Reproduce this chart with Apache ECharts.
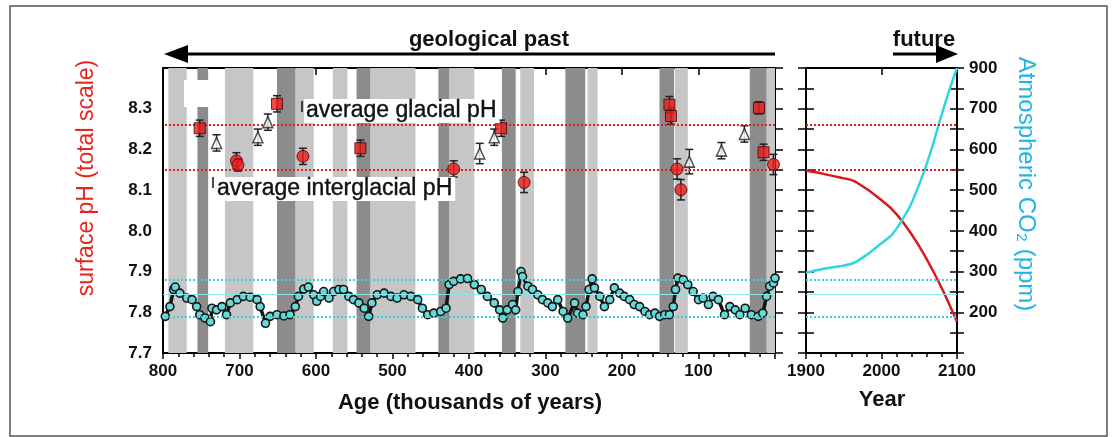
<!DOCTYPE html>
<html><head><meta charset="utf-8">
<script src="https://cdn.jsdelivr.net/npm/echarts@6/dist/echarts.min.js"></script>
<style>html,body{margin:0;padding:0;background:#fff}#c{width:1112px;height:437px}</style>
</head><body><div id="c"></div>
<script>
// ---------- DATA ----------
// Ice-core CO2 record: age (kyr BP) and CO2 (ppm)
const co2Age = [797,791,786,784,778,769,762,756,752,745,738,736,730,723,717,712,703,695,686,677,673,666,660,651,642,634,627,623,616,610,603,599,594,590,583,577,570,564,557,551,544,537,531,527,520,511,502,494,485,476,467,461,454,446,437,430,426,420,411,402,393,384,376,367,360,356,350,343,339,336,332,330,323,317,310,304,297,291,284,277,271,262,258,251,247,243,239,236,229,223,216,210,203,197,190,184,177,170,164,157,151,144,138,133,130,127,120,114,107,100,94,87,81,74,66,59,52,46,39,31,22,16,11,7,2,0];
const co2Val = [190,214,256,262,247,235,231,214,194,186,177,210,206,214,194,223,231,239,237,231,214,173,190,194,191,194,214,239,257,262,243,227,239,251,235,251,256,256,239,231,223,210,190,223,243,247,239,235,243,239,231,210,194,198,202,210,268,276,282,283,268,256,239,223,206,186,206,219,206,251,300,288,264,256,243,231,223,214,231,202,186,223,198,194,214,256,282,260,239,214,231,260,247,239,231,219,214,202,194,198,190,194,194,214,256,284,280,268,251,231,235,219,239,231,194,214,206,194,210,194,190,198,239,264,272,284];

// Boron-isotope surface pH reconstructions (age kyr, pH, error)
const sqAge = [752,651,542,358,138,136,21,15];
const sqPH  = [8.252,8.312,8.203,8.252,8.310,8.282,8.302,8.193];
const sqErr = [0.02,0.02,0.02,0.02,0.02,0.02,0.015,0.02];
const ciAge = [704,702,617,420,328,128,123,2];
const ciPH  = [8.172,8.162,8.183,8.152,8.119,8.152,8.101,8.163];
const ciErr = [0.02,0.015,0.02,0.02,0.025,0.025,0.025,0.025];
const trAge = [730,676,663,386,367,112,70,40];
const trPH  = [8.216,8.230,8.267,8.190,8.230,8.170,8.197,8.238];
const trErr = [0.02,0.02,0.02,0.025,0.02,0.03,0.02,0.02];

// Shaded periods (kyr BP, start-end)
const lightBands = [[793,769],[719,682],[627,603],[578,559],[529,470],[426,393],[333,315],[245,232],[131,114],[11,0]];
const darkBands  = [[755,741],[651,627],[547,529],[440,426],[357,339],[274,248],[151,132],[33,11]];

// Reference levels
const glacialPH = 8.263;
const interglacialPH = 8.148;
const co2RefDotted = [280, 190];
const co2RefSolid = [245];

// Future projection
const futYears = [1900,1923,1945,1963,1981,1998,2014,2029,2047,2065,2082,2100];
const futPH    = [8.148,8.140,8.131,8.123,8.102,8.078,8.053,8.020,7.971,7.913,7.851,7.777];
const co2Years = [1900,1923,1945,1963,1981,1998,2014,2025,2038,2051,2065,2078,2089,2100];
const futCO2   = [297,307,313,321,342,367,391,420,461,519,593,675,741,800];

// Tick label for the top of the CO2 axis as printed
const co2TopLabel = '900';

// ---------- CHART ----------
const FONT = '"Liberation Sans", Arial, sans-serif';
const tickLbl = {fontFamily: FONT, fontWeight: 'bold', fontSize: 17, color: '#111'};
const blk = {color: '#000', width: 1.5};

const chart = echarts.init(document.getElementById('c'), null, {renderer: 'canvas'});

const errData = [];
function addErr(a, v, e) { a.forEach((x, i) => errData.push([x, v[i] - e[i], v[i] + e[i]])); }
addErr(sqAge, sqPH, sqErr); addErr(ciAge, ciPH, ciErr); addErr(trAge, trPH, trErr);

const bandAreas = [];
lightBands.forEach(b => bandAreas.push([{xAxis: b[0], itemStyle: {color: '#c6c6c6'}}, {xAxis: b[1]}]));
darkBands.forEach(b => bandAreas.push([{xAxis: b[0], itemStyle: {color: '#8c8c8c'}}, {xAxis: b[1]}]));

const redRef = {silent: true, symbol: 'none', label: {show: false},
  lineStyle: {color: '#e02020', type: 'dotted', width: 2},
  data: [{yAxis: glacialPH}, {yAxis: interglacialPH}]};
const cyanRef = {silent: true, symbol: 'none', label: {show: false},
  data: co2RefDotted.map(v => ({yAxis: v, lineStyle: {color: '#36d3d6', type: 'dotted', width: 2}}))
    .concat(co2RefSolid.map(v => ({yAxis: v, lineStyle: {color: '#8ae6e8', type: 'solid', width: 1}})))};

function pairX(base, grid) {
  return [
    Object.assign({gridIndex: grid, type: 'value', splitLine: {show: false},
      axisLine: {show: true, lineStyle: {color: '#000', width: 2}},
      axisTick: {show: true, length: 6, lineStyle: blk},
      minorTick: {show: true, splitNumber: 5, length: 4, lineStyle: blk}}, base),
    Object.assign({gridIndex: grid, type: 'value', splitLine: {show: false},
      axisLine: {show: false}, axisLabel: {show: false},
      axisTick: {show: true, inside: true, length: 7, lineStyle: blk}}, base, {axisLabel: {show: false}})
  ];
}

const xAxes = [].concat(
  pairX({min: 0, max: 800, interval: 100, inverse: true,
    axisLabel: Object.assign({margin: 10, formatter: v => v === 0 ? '' : String(v)}, tickLbl)}, 0),
  pairX({min: 1900, max: 2100, interval: 100,
    axisLabel: Object.assign({margin: 10, formatter: v => String(v)}, tickLbl)}, 1)
);

const phBase = {type: 'value', min: 7.7, max: 8.4, interval: 0.1, splitLine: {show: false}};
const yAxes = [
  Object.assign({gridIndex: 0, position: 'left',
    axisLine: {show: true, lineStyle: {color: '#000', width: 2}},
    axisTick: {show: true, length: 7, lineStyle: blk},
    minorTick: {show: true, splitNumber: 2, length: 5, lineStyle: blk},
    axisLabel: Object.assign({margin: 11, formatter: v => v > 8.35 ? '' : v.toFixed(1)}, tickLbl)}, phBase),
  Object.assign({gridIndex: 0, position: 'left', axisLine: {show: false}, axisLabel: {show: false},
    axisTick: {show: true, inside: true, length: 5, lineStyle: blk}}, phBase),
  {gridIndex: 0, type: 'value', min: 100, max: 800, show: false, splitLine: {show: false}},
  Object.assign({gridIndex: 0, position: 'right',
    axisLine: {show: true, lineStyle: {color: '#000', width: 2}}, axisLabel: {show: false},
    axisTick: {show: true, length: 8, lineStyle: blk},
    minorTick: {show: true, splitNumber: 2, length: 8, lineStyle: blk}}, phBase),
  Object.assign({gridIndex: 1, position: 'left',
    axisLine: {show: true, lineStyle: {color: '#000', width: 2}}, axisLabel: {show: false},
    axisTick: {show: true, length: 8, lineStyle: blk},
    minorTick: {show: true, splitNumber: 2, length: 8, lineStyle: blk}}, phBase),
  Object.assign({gridIndex: 1, position: 'left', axisLine: {show: false}, axisLabel: {show: false},
    axisTick: {show: true, inside: true, length: 8, lineStyle: blk},
    minorTick: {show: true, splitNumber: 2, length: 8, lineStyle: blk}}, phBase),
  {gridIndex: 1, type: 'value', position: 'right', min: 100, max: 800, interval: 100, splitLine: {show: false},
    axisLine: {show: true, lineStyle: {color: '#000', width: 2}},
    axisTick: {show: true, length: 7, lineStyle: blk},
    minorTick: {show: true, splitNumber: 2, length: 7, lineStyle: blk},
    axisLabel: Object.assign({margin: 12, formatter: v => v === 100 ? '' : (v === 800 ? co2TopLabel : String(v))}, tickLbl)},
  {gridIndex: 1, type: 'value', position: 'right', min: 100, max: 800, interval: 100, splitLine: {show: false},
    axisLine: {show: false}, axisLabel: {show: false},
    axisTick: {show: true, inside: true, length: 7, lineStyle: blk},
    minorTick: {show: true, splitNumber: 2, length: 7, lineStyle: blk}}
];

const option = {
  animation: false,
  backgroundColor: '#fff',
  grid: [
    {left: 163, top: 68, width: 612, height: 285, show: true, backgroundColor: '#fff', borderColor: '#000', borderWidth: 2},
    {left: 806, top: 68, width: 151, height: 285, show: true, backgroundColor: '#fff', borderColor: '#000', borderWidth: 2}
  ],
  xAxis: xAxes,
  yAxis: yAxes,
  series: [
    {type: 'line', xAxisIndex: 0, yAxisIndex: 0, data: [], z: 1, silent: true,
      markArea: {silent: true, data: bandAreas}, markLine: redRef},
    {type: 'line', xAxisIndex: 0, yAxisIndex: 2, data: [], z: 2, silent: true, markLine: cyanRef},
    {type: 'line', xAxisIndex: 0, yAxisIndex: 2, z: 3, silent: true,
      data: co2Age.map((a, i) => [a, co2Val[i]]),
      symbol: 'circle', symbolSize: 8, showAllSymbol: true,
      lineStyle: {color: '#151515', width: 3.5},
      itemStyle: {color: '#6ad8d8', borderColor: '#151515', borderWidth: 1.6}},
    {type: 'custom', xAxisIndex: 0, yAxisIndex: 0, z: 4, silent: true, data: errData, encode: {x: 0, y: [1, 2]},
      renderItem: (params, api) => {
        const x = api.value(0);
        const lo = api.coord([x, api.value(1)]);
        const hi = api.coord([x, api.value(2)]);
        const cw = 4, st = {stroke: '#222', lineWidth: 1.5};
        return {type: 'group', children: [
          {type: 'line', shape: {x1: lo[0], y1: lo[1], x2: hi[0], y2: hi[1]}, style: st},
          {type: 'line', shape: {x1: lo[0] - cw, y1: lo[1], x2: lo[0] + cw, y2: lo[1]}, style: st},
          {type: 'line', shape: {x1: hi[0] - cw, y1: hi[1], x2: hi[0] + cw, y2: hi[1]}, style: st}
        ]};
      }},
    {type: 'scatter', xAxisIndex: 0, yAxisIndex: 0, z: 5, silent: true, symbol: 'triangle', symbolSize: [10, 11],
      data: trAge.map((a, i) => [a, trPH[i]]),
      itemStyle: {color: '#fff', borderColor: '#222', borderWidth: 1.5}},
    {type: 'scatter', xAxisIndex: 0, yAxisIndex: 0, z: 5, silent: true, symbol: 'rect', symbolSize: 11,
      data: sqAge.map((a, i) => [a, sqPH[i]]),
      itemStyle: {color: '#ec1c1c', borderColor: '#400', borderWidth: 1}},
    {type: 'scatter', xAxisIndex: 0, yAxisIndex: 0, z: 5, silent: true, symbol: 'circle', symbolSize: 12,
      data: ciAge.map((a, i) => [a, ciPH[i]]),
      itemStyle: {color: '#ec1c1c', borderColor: '#400', borderWidth: 1}},
    {type: 'line', xAxisIndex: 2, yAxisIndex: 4, z: 3, silent: true, symbol: 'none', smooth: 0.2,
      data: futYears.map((y, i) => [y, futPH[i]]),
      lineStyle: {color: '#d8191c', width: 2.5}, markLine: redRef},
    {type: 'line', xAxisIndex: 2, yAxisIndex: 6, z: 3, silent: true, symbol: 'none', smooth: 0.3,
      data: co2Years.map((y, i) => [y, futCO2[i]]),
      lineStyle: {color: '#2fd6e0', width: 2.5}, markLine: cyanRef}
  ],
  graphic: [
    {type: 'rect', z: 100, shape: {x: 10, y: 6, width: 1097, height: 430},
      style: {fill: 'rgba(0,0,0,0)', stroke: '#555', lineWidth: 1.5}},
    {type: 'rect', z: 100, shape: {x: 184, y: 80, width: 27, height: 27}, style: {fill: '#fff'}},
    {type: 'line', z: 100, shape: {x1: 183, y1: 54, x2: 775, y2: 54}, style: {stroke: '#000', lineWidth: 3}},
    {type: 'polygon', z: 100, shape: {points: [[164, 54], [188, 45], [188, 63]]}, style: {fill: '#000'}},
    {type: 'text', z: 100, x: 489, y: 40, style: {text: 'geological past', fontFamily: FONT, fontWeight: 'bold', fontSize: 22, fill: '#111', align: 'center', verticalAlign: 'middle'}},
    {type: 'line', z: 100, shape: {x1: 893, y1: 54, x2: 940, y2: 54}, style: {stroke: '#000', lineWidth: 3}},
    {type: 'polygon', z: 100, shape: {points: [[958, 54], [936, 45], [936, 63]]}, style: {fill: '#000'}},
    {type: 'text', z: 100, x: 924, y: 40, style: {text: 'future', fontFamily: FONT, fontWeight: 'bold', fontSize: 22, fill: '#111', align: 'center', verticalAlign: 'middle'}},
    {type: 'text', z: 100, x: 304, y: 111, style: {text: 'average glacial pH', fontFamily: FONT, fontSize: 23, fill: '#111', align: 'left', verticalAlign: 'middle', backgroundColor: '#fff', padding: [1, 3, 0, 2], stroke: '#111', lineWidth: 0.4}},
    {type: 'line', z: 101, shape: {x1: 302, y1: 101, x2: 302, y2: 112}, style: {stroke: '#111', lineWidth: 1.5}},
    {type: 'text', z: 100, x: 215, y: 189, style: {text: 'average interglacial pH', fontFamily: FONT, fontSize: 23, fill: '#111', align: 'left', verticalAlign: 'middle', backgroundColor: '#fff', padding: [1, 3, 0, 2], stroke: '#111', lineWidth: 0.4}},
    {type: 'line', z: 101, shape: {x1: 213, y1: 177, x2: 213, y2: 188}, style: {stroke: '#111', lineWidth: 1.5}},
    {type: 'text', z: 100, x: 87, y: 178, rotation: Math.PI / 2, style: {text: 'surface pH (total scale)', fontFamily: FONT, fontSize: 23, fill: '#e8231c', align: 'center', verticalAlign: 'middle'}},
    {type: 'text', z: 100, x: 1026, y: 184, rotation: -Math.PI / 2, style: {text: 'Atmospheric CO\u2082 (ppm)', fontFamily: FONT, fontSize: 24, fill: '#21b3e6', align: 'center', verticalAlign: 'middle'}},
    {type: 'text', z: 100, x: 470, y: 403, style: {text: 'Age (thousands of years)', fontFamily: FONT, fontWeight: 'bold', fontSize: 22, fill: '#111', align: 'center', verticalAlign: 'middle'}},
    {type: 'text', z: 100, x: 882, y: 400, style: {text: 'Year', fontFamily: FONT, fontWeight: 'bold', fontSize: 22, fill: '#111', align: 'center', verticalAlign: 'middle'}}
  ]
};
chart.setOption(option);
</script>
</body></html>
